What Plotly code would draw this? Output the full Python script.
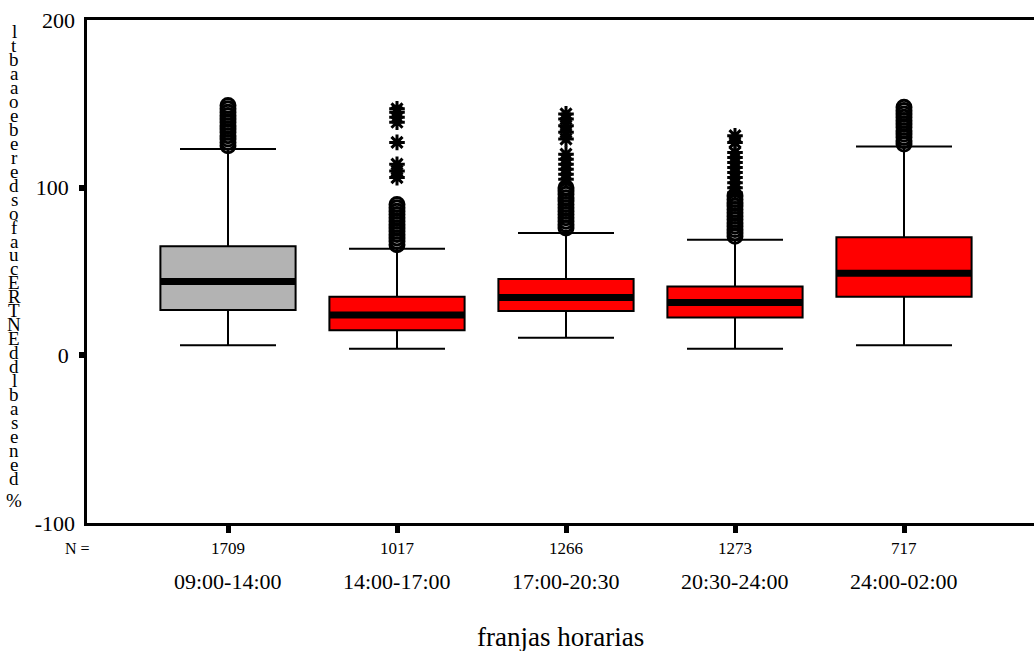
import plotly.graph_objects as go

# ---------------- data ----------------
categories = ["09:00-14:00", "14:00-17:00", "17:00-20:30", "20:30-24:00", "24:00-02:00"]
counts = [1709, 1017, 1266, 1273, 717]
q1 = [27, 15, 26.5, 22.5, 35]
median = [44, 24, 34.5, 31.5, 49]
q3 = [65, 35, 45.5, 41, 70.5]
lower_whisker = [6, 4, 10.5, 4, 6]
upper_whisker = [123, 63.5, 73, 69, 124.5]
fill_colors = ["#B3B3B3", "#FF0000", "#FF0000", "#FF0000", "#FF0000"]

outliers_circle = [
    [125, 127, 129, 131, 133, 135, 137, 139, 141, 143, 145, 147, 149],
    [66, 68, 70, 72, 74, 76, 78, 80, 82, 84, 86, 88, 90],
    [76, 78, 80, 82, 84, 86, 88, 90, 92, 94, 96, 98, 100],
    [71, 73, 75, 77, 79, 81, 83, 85, 87, 89, 91, 93, 95],
    [126, 128, 130, 132, 134, 136, 138, 140, 142, 144, 146, 148],
]
outliers_extreme = [
    [],
    [106, 110, 114, 127, 139, 142, 145, 147],
    [105, 108, 111, 114, 117, 120, 129, 133, 137, 141, 144],
    [97, 100, 103, 106, 109, 112, 115, 118, 121, 127, 131],
    [],
]

y_tick_major = [0, 100]
y_tick_major_text = ["0", "100"]
y_tick_plain = [-100, 200]
y_tick_plain_text = ["-100", "200"]
y_label_chars = list("ltbaaoeberedsofaucERTNEddlbasened%")
x_title = "franjas horarias"
n_label = "N ="

FONT = "Liberation Serif"

fig = go.Figure()

for i, cat in enumerate(categories):
    fig.add_trace(go.Box(
        x=[i], q1=[q1[i]], median=[median[i]], q3=[q3[i]],
        lowerfence=[lower_whisker[i]], upperfence=[upper_whisker[i]],
        fillcolor=fill_colors[i], line=dict(color="black", width=2),
        width=0.8, whiskerwidth=0.71, boxpoints=False,
        showlegend=False, hoverinfo="skip", name=cat,
    ))

for i in range(len(categories)):
    fig.add_trace(go.Scatter(
        x=[i - 0.4, i + 0.4], y=[median[i], median[i]], mode="lines",
        line=dict(color="black", width=7), showlegend=False, hoverinfo="skip",
    ))

for i in range(len(categories)):
    if outliers_circle[i]:
        fig.add_trace(go.Scatter(
            x=[i] * len(outliers_circle[i]), y=outliers_circle[i], mode="markers",
            marker=dict(symbol="circle-open", size=14, color="black", line=dict(width=3)),
            showlegend=False, hoverinfo="skip",
        ))
    if outliers_extreme[i]:
        fig.add_trace(go.Scatter(
            x=[i] * len(outliers_extreme[i]), y=outliers_extreme[i], mode="markers",
            marker=dict(symbol="asterisk-open", size=13, color="black", line=dict(width=3)),
            showlegend=False, hoverinfo="skip",
        ))

# invisible trace on overlay axis so that it renders
fig.add_trace(go.Scatter(x=[0], y=[0], yaxis="y2", mode="markers",
                         marker=dict(opacity=0), showlegend=False, hoverinfo="skip"))

W, H = 1034, 651
ML, MT, MB, MR = 87, 20, 128, 0
plot_w = W - ML - MR
plot_h = H - MT - MB
px_per_cat = 169.0
x_lo = -(228 - ML) / px_per_cat
x_hi = x_lo + plot_w / px_per_cat

annotations = []
def py(ypx):
    return (H - MB - ypx) / plot_h

for i, cat in enumerate(categories):
    annotations.append(dict(x=i, xref="x", y=py(548), yref="paper", text=str(counts[i]),
                            showarrow=False, font=dict(family=FONT, size=17, color="black"),
                            xanchor="center", yanchor="middle"))
    annotations.append(dict(x=i, xref="x", y=py(581), yref="paper", text=cat,
                            showarrow=False, font=dict(family=FONT, size=22, color="black"),
                            xanchor="center", yanchor="middle"))
annotations.append(dict(x=(77 - ML) / plot_w, xref="paper", y=py(548), yref="paper", text=n_label,
                        showarrow=False, font=dict(family=FONT, size=16, color="black"),
                        xanchor="center", yanchor="middle"))
annotations.append(dict(x=0.5, xref="paper", y=py(637), yref="paper", text=x_title,
                        showarrow=False, font=dict(family=FONT, size=27, color="black"),
                        xanchor="center", yanchor="middle"))
n = len(y_label_chars)
for k, ch in enumerate(y_label_chars):
    ypx = 32 + k * (478 - 32) / (n - 2) if k < n - 1 else 500
    annotations.append(dict(x=(14 - ML) / plot_w, xref="paper", y=py(ypx), yref="paper", text=ch,
                            showarrow=False, font=dict(family=FONT, size=19, color="black"),
                            xanchor="center", yanchor="middle"))

axis_font = dict(family=FONT, size=22, color="black")
fig.update_layout(
    width=W, height=H,
    margin=dict(l=ML, r=MR, t=MT, b=MB, pad=0),
    paper_bgcolor="white", plot_bgcolor="white",
    showlegend=False,
    xaxis=dict(range=[x_lo, x_hi], showgrid=False, zeroline=False,
               showline=True, linecolor="black", linewidth=2.5, mirror=True,
               tickvals=list(range(len(categories))), showticklabels=False,
               ticks="outside", ticklen=7, tickwidth=5, tickcolor="black"),
    yaxis=dict(range=[-100, 200], showgrid=False, zeroline=False,
               showline=True, linecolor="black", linewidth=2.5, mirror=False,
               tickvals=y_tick_major, ticktext=y_tick_major_text,
               ticks="outside", ticklen=5, tickwidth=6,
               tickcolor="black", tickfont=axis_font, ticklabelstandoff=6),
    yaxis2=dict(range=[-100, 200], overlaying="y", side="left", anchor="x",
                showgrid=False, zeroline=False, showline=False,
                tickvals=y_tick_plain, ticktext=y_tick_plain_text,
                ticks="", tickfont=axis_font, ticklabelstandoff=11),
    annotations=annotations,
)

fig.write_html("out.html", config={"displayModeBar": False},
               post_script="document.body.style.margin='0px';")
